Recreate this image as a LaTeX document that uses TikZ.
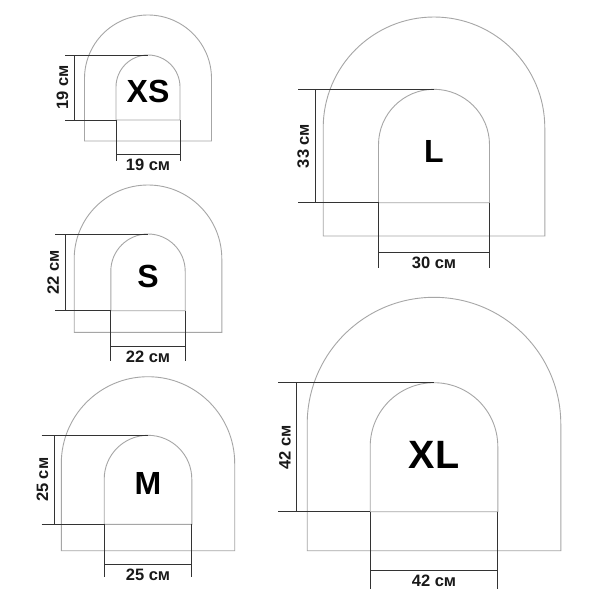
\documentclass[tikz,border=0pt]{standalone}
\usepackage{fontspec}
\setmainfont{Liberation Sans}

\begin{document}
\begin{tikzpicture}[x=1pt,y=-1pt]

\def\clrarch{black!35}
\def\clrdim{black!80}
\def\lw{0.9pt}

\fill [white] (0,0) rectangle (600,600);
\useasboundingbox (0,0) rectangle (600,600);

% \myarch{cx}{r}{top}{bottom}
\newcommand*{\myarch}[4]{
	\draw [\clrarch,line width=\lw] (#1-#2,#4) -- (#1-#2,#3+#2) arc[start angle=180, end angle=360, radius=#2] -- (#1+#2,#4) -- cycle;
}

% \mydims{cx}{ri}{itop}{ibot}{extx}{dimx}{dimy}{extbot}
\newcommand*{\mydims}[8]{
	\draw [\clrdim,line width=\lw] (#5,#3) -- (#1,#3);
	\draw [\clrdim,line width=\lw] (#5,#4) -- (#1-#2,#4);
	\draw [\clrdim,line width=\lw] (#6,#3) -- (#6,#4);
	\draw [\clrdim,line width=\lw] (#1-#2,#4) -- (#1-#2,#8);
	\draw [\clrdim,line width=\lw] (#1+#2,#4) -- (#1+#2,#8);
	\draw [\clrdim,line width=\lw] (#1-#2,#7) -- (#1+#2,#7);
}

\tikzset{
	sizelabel/.style={font=\fontsize{32}{32}\selectfont\bfseries},
	dimtext/.style={font=\fontsize{16.5}{17}\selectfont\bfseries, text=black!90, inner sep=2.8pt},
}

	% XS
	\myarch{148}{63.5}{15}{141}
	\myarch{148}{32}{55}{120}
	\mydims{148}{32}{55}{120}{65}{74.3}{154}{161}
	\node (xs) [sizelabel] at (148,91.7) {XS};
	\node (xs-h) [dimtext,rotate=90,anchor=south] at (71.3,87.5) {19 см};
	\node (xs-w) [dimtext,anchor=north] at (148,155.5) {19 см};

	% S
	\myarch{148}{73.8}{185}{332.3}
	\myarch{148}{37.2}{234}{310.7}
	\mydims{148}{37.2}{234}{310.7}{55}{65}{346}{361}
	\node (s) [sizelabel] at (148,276.7) {S};
	\node (s-h) [dimtext,rotate=90,anchor=south] at (62,272.3) {22 см};
	\node (s-w) [dimtext,anchor=north] at (148,347.5) {22 см};

	% M
	\myarch{148}{86.7}{376.7}{550.7}
	\myarch{148}{43.8}{435.3}{524.3}
	\mydims{148}{43.8}{435.3}{524.3}{41.7}{54.3}{564}{577}
	\node (m) [sizelabel] at (148,483) {M};
	\node (m-h) [dimtext,rotate=90,anchor=south] at (51.3,479.8) {25 см};
	\node (m-w) [dimtext,anchor=north] at (148,565.5) {25 см};

	% L
	\myarch{434}{110.8}{17}{236}
	\myarch{434}{55.5}{89.3}{202.7}
	\mydims{434}{55.5}{89.3}{202.7}{298.3}{315}{252.7}{268}
	\node (l) [sizelabel] at (434,151.7) {L};
	\node (l-h) [dimtext,rotate=90,anchor=south] at (312,146) {33 см};
	\node (l-w) [dimtext,anchor=north] at (434,254.2) {30 см};

	% XL
	\myarch{434}{126.8}{297.3}{550.7}
	\myarch{434}{63.8}{382.7}{511.7}
	\mydims{434}{63.8}{382.7}{511.7}{278.3}{296.7}{570.7}{589}
	\node (xl) [sizelabel,font=\fontsize{39.5}{40}\selectfont\bfseries] at (434,455) {XL};
	\node (xl-h) [dimtext,rotate=90,anchor=south] at (293.7,447.2) {42 см};
	\node (xl-w) [dimtext,anchor=north] at (434,572.2) {42 см};

\end{tikzpicture}
\end{document}
